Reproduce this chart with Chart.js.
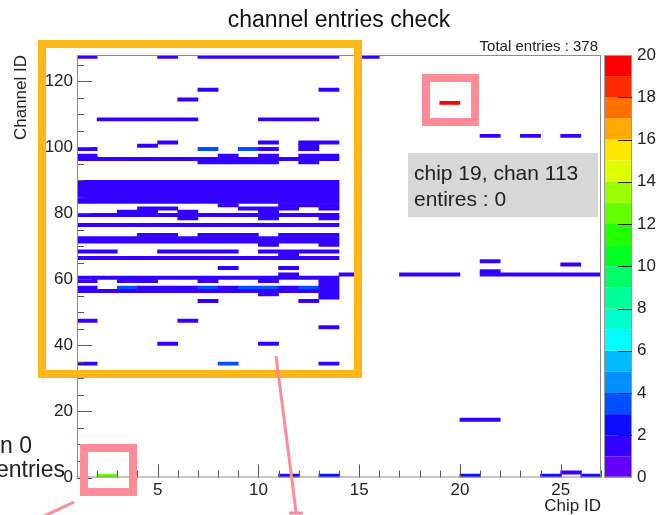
<!DOCTYPE html>
<html>
<head>
<meta charset="utf-8">
<title>channel entries check</title>
<script src="https://cdn.jsdelivr.net/npm/chart.js@4.4.1/dist/chart.umd.min.js"></script>
<style>
  html, body { margin: 0; padding: 0; background: #fff; }
  canvas { display: block; }
</style>
</head>
<body>
<canvas id="hitMap" width="659" height="515"></canvas>
<script>
// channel rows that have hits, and the chips hit on each row
// token = chip or chip range, "*n" = entries in that cell (default 1)
const channelIds = [127, 117, 114, 113, 108, 103, 101, 100, 99, 97, 96, 95,
  89, 88, 87, 86, 85, 84, 83, 82, 81, 80, 79, 78, 76, 73, 72, 71, 70,
  68, 67, 66, 65, 64, 63, 62, 61, 60, 59, 58, 57, 56, 55, 54, 53,
  47, 45, 40, 34, 17, 1, 0];
const chipRuns = [
  '1 5 7-13 15', '7 13', '6', '19*19', '2-6 10-12', '21 23 25', '5 10 12-13', '4 12',
  '1 7*3 9*3 10 12', '1 8 10 12-13', '1-13', '7-10 12',
  '1-13', '1-13', '1-13', '1-13', '1-13', '1-13', '1-13',
  '8 11-13', '4-5 9-11 13', '3-4 6 10', '1-13', '6 10 13', '1-13',
  '4-5 7-9 11-13', '1-13', '1-13', '10 13',
  '1-2 5-8 10-13', '11', '1-13', '21', '25', '8 11', '21', '11 14 17-19 21-26',
  '1-13', '1 3-4 7 10 13', '13', '1 3*3 4-6 7*3 8 9-10*3 11 12*3 13', '1-13',
  '10 13', '13', '7 12',
  '1 6', '13', '5 10', '1 8*3 13', '20-21', '25', '2*12 11 13*2 20*2 24*2 26*2'
];

const chipRange = [1, 27];
const channelRange = [0, 128];
const chipTicks = [5, 10, 15, 20, 25];
const channelTicks = [0, 20, 40, 60, 80, 100, 120];
const levelTicks = [0, 2, 4, 6, 8, 10, 12, 14, 16, 18, 20];
const totalEntries = 378;

// one colour per entry level 0..19
const paletteColors = ['#6600ff', '#3300ff', '#0d0dff', '#0050ff', '#0090ff', '#00bbff', '#00ffff',
  '#00ffcc', '#00ff99', '#00ff66', '#00ff22', '#22ff00', '#66ff00', '#99ff00', '#ddff00',
  '#ffe600', '#ffaa00', '#ff7000', '#ff2a00', '#ff0000'];

const FONT = 'Liberation Sans';
Chart.defaults.font.family = FONT;
Chart.defaults.color = '#222';

function buildCells() {
  const cells = [];
  channelIds.forEach((chan, row) => {
    chipRuns[row].split(' ').forEach((token) => {
      const [range, count] = token.split('*');
      const [first, last] = range.split('-').map(Number);
      cells.push({ y: chan + 0.5, x: [first, (last || first) + 1], count: Number(count || 1) });
    });
  });
  return cells;
}

const fixedTicks = (values) => (axis) => { axis.ticks = values.map((value) => ({ value })); };

// ROOT style: ticks inside the frame, long at labelled values
const frameTicks = {
  id: 'frameTicks',
  afterDatasetsDraw(chart) {
    const { ctx, chartArea: area, scales: { x, y } } = chart;
    ctx.save();
    ctx.lineWidth = 1;
    ctx.strokeStyle = '#555';
    ctx.beginPath();
    for (let chip = chipRange[0]; chip <= chipRange[1]; chip++) {
      const px = Math.round(x.getPixelForValue(chip)) + 0.5;
      ctx.moveTo(px, area.bottom);
      ctx.lineTo(px, area.bottom - (chip % 5 === 0 ? 13 : 7));
    }
    for (let chan = channelRange[0]; chan < channelRange[1]; chan += 5) {
      const py = Math.round(y.getPixelForValue(chan)) + 0.5;
      ctx.moveTo(area.left, py);
      ctx.lineTo(area.left + (chan % 20 === 0 ? 15 : 7), py);
    }
    ctx.stroke();
    ctx.strokeStyle = '#8c8c8c';
    ctx.strokeRect(area.left + 0.5, area.top + 0.5, area.width - 1, area.height - 1);
    ctx.restore();
  }
};

// palette bar drawn along the "level" scale on the right
const colorBar = {
  id: 'colorBar',
  afterDraw(chart) {
    const { ctx, chartArea: area, scales: { level } } = chart;
    const left = area.right + 3;
    const width = 28;
    ctx.save();
    paletteColors.forEach((color, i) => {
      const top = level.getPixelForValue(i + 1);
      const bottom = level.getPixelForValue(i);
      ctx.fillStyle = color;
      ctx.fillRect(left, top, width, bottom - top);
    });
    ctx.strokeStyle = '#999';
    ctx.lineWidth = 1;
    ctx.strokeRect(left + 0.5, area.top + 0.5, width - 1, area.height - 1);
    ctx.strokeStyle = '#222';
    ctx.beginPath();
    levelTicks.slice(1, -1).forEach((v) => {
      const py = Math.round(level.getPixelForValue(v)) + 0.5;
      ctx.moveTo(left + width, py);
      ctx.lineTo(left + width - 14, py);
    });
    ctx.stroke();
    ctx.restore();
  }
};

// stats text and the hand-drawn annotations on top of the plot
const annotations = {
  id: 'annotations',
  afterDraw(chart) {
    const { ctx, chartArea: area } = chart;
    ctx.save();
    ctx.fillStyle = '#222';
    ctx.font = `15px "${FONT}"`;
    ctx.textAlign = 'right';
    ctx.fillText(`Total entries : ${totalEntries}`, area.right - 3, 51);

    ctx.fillStyle = '#d7d7d7';
    ctx.fillRect(408, 153, 190, 64);
    ctx.fillStyle = '#222';
    ctx.textAlign = 'left';
    ctx.font = `21px "${FONT}"`;
    ctx.fillText('chip 19, chan 113', 414, 180);
    ctx.fillText('entires : 0', 414, 206);

    ctx.font = `23px "${FONT}"`;
    ctx.textAlign = 'right';
    ctx.fillText('chip 2, chan 0', 32, 453);
    ctx.fillText('entries', 65, 477);

    ctx.strokeStyle = '#fdb719';
    ctx.lineWidth = 8;
    ctx.strokeRect(42, 44, 316, 330);

    ctx.strokeStyle = '#ff8c96';
    ctx.strokeRect(426, 78, 49, 44);
    ctx.strokeRect(84, 448, 49, 44);

    ctx.lineWidth = 3;
    ctx.beginPath();
    ctx.moveTo(276, 356);
    ctx.lineTo(296, 512);
    ctx.moveTo(289, 513);
    ctx.lineTo(303, 513);
    ctx.moveTo(74, 502);
    ctx.lineTo(36, 520);
    ctx.stroke();
    ctx.restore();
  }
};

const tickFont = { size: 17 };

new Chart(document.getElementById('hitMap'), {
  type: 'bar',
  data: {
    datasets: [{
      data: buildCells(),
      backgroundColor: (ctx) => paletteColors[Math.min(19, ctx.raw ? ctx.raw.count : 1)],
      borderWidth: 0,
      barPercentage: 1,
      categoryPercentage: 1,
      grouped: false
    }]
  },
  options: {
    indexAxis: 'y',
    responsive: false,
    animation: false,
    events: [],
    layout: { padding: 0 },
    plugins: {
      legend: { display: false },
      tooltip: { enabled: false },
      title: {
        display: true,
        text: 'channel entries check',
        fullSize: false,
        color: '#111',
        font: { size: 23, weight: 'normal' },
        padding: { top: 7, bottom: 20.4 }
      }
    },
    scales: {
      x: {
        type: 'linear',
        position: 'bottom',
        min: chipRange[0],
        max: chipRange[1],
        afterBuildTicks: fixedTicks(chipTicks),
        afterFit: (scale) => { scale.height = 37.5; },
        grid: { display: false, drawTicks: false },
        border: { display: false },
        ticks: { font: tickFont, padding: 3, maxRotation: 0, autoSkip: false },
        title: { display: true, text: 'Chip ID', align: 'end', font: { size: 17, lineHeight: 1 }, padding: 0 }
      },
      y: {
        type: 'linear',
        position: 'left',
        min: channelRange[0],
        max: channelRange[1],
        offset: false,
        afterBuildTicks: fixedTicks(channelTicks),
        afterFit: (scale) => { scale.width = 77; },
        grid: { display: false, drawTicks: false, offset: false },
        border: { display: false },
        ticks: { font: tickFont, padding: 4, autoSkip: false },
        title: { display: true, text: 'Channel ID', align: 'end', font: { size: 17, lineHeight: 1 }, padding: { top: 13, bottom: 0 } }
      },
      level: {
        type: 'linear',
        axis: 'y',
        position: 'right',
        min: 0,
        max: 20,
        offset: false,
        afterBuildTicks: fixedTicks(levelTicks),
        afterFit: (scale) => { scale.width = 58; },
        // invisible tick marks push the labels past the colour bar
        grid: { display: false, drawTicks: true, tickLength: 33, offset: false },
        border: { display: false },
        ticks: { font: tickFont, padding: 3, autoSkip: false }
      }
    }
  },
  plugins: [frameTicks, colorBar, annotations]
});
</script>
</body>
</html>
